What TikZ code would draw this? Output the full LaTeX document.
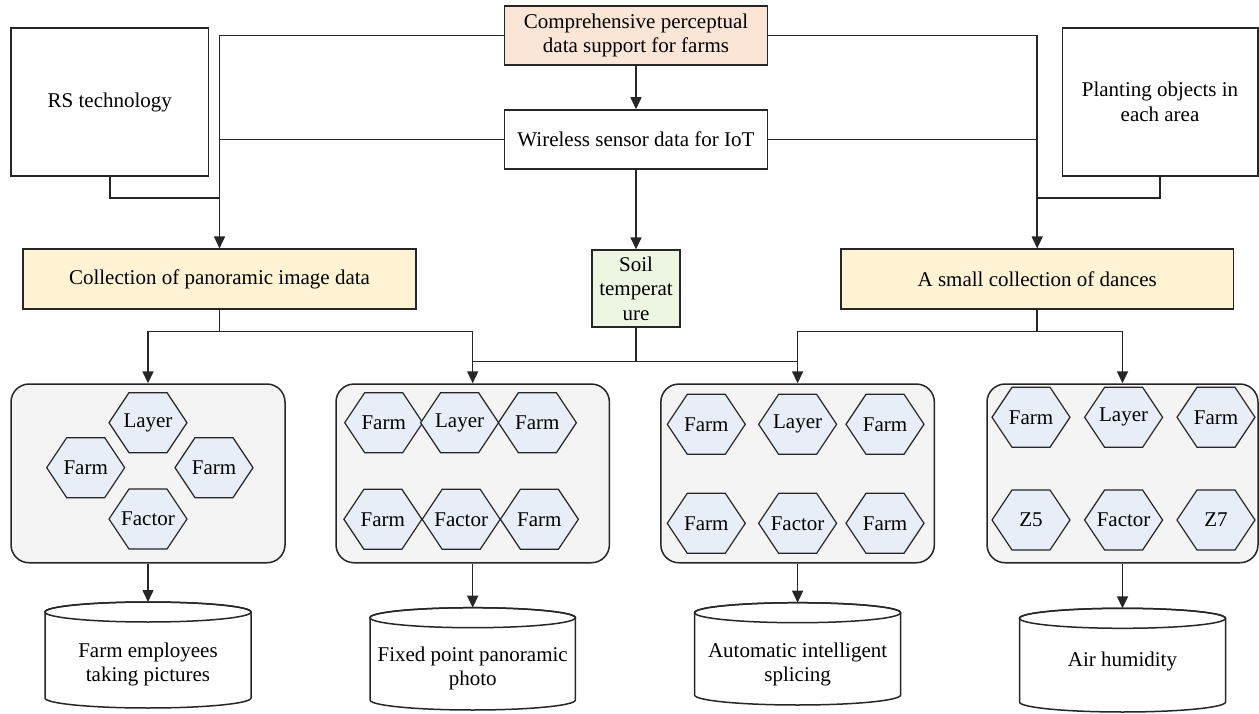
\documentclass[tikz,border=0pt]{standalone}
\usepackage{fontspec}
\setmainfont{Liberation Serif}
\usetikzlibrary{arrows.meta,calc}
\definecolor{lc}{HTML}{262626}
\definecolor{peach}{HTML}{FBE5D6}
\definecolor{yel}{HTML}{FFF3D4}
\definecolor{grn}{HTML}{EDF6E3}
\definecolor{gry}{HTML}{F3F4F3}
\definecolor{hexb}{HTML}{E7EEF8}
\tikzset{
  every node/.style={font=\fontsize{21}{24.5}\selectfont, text=black},
  box/.style={draw=lc, line width=1.5pt, inner sep=0pt, align=center},
  conn/.style={draw=lc, line width=1.5pt},
  arr/.style={conn, -{Triangle[width=11pt,length=12pt]}},
  panel/.style={box, fill=gry, rounded corners=18pt},
  hexs/.style={draw=lc, line width=1.2pt, fill=hexb},
  cyltext/.style={inner sep=0pt, align=center},
}
\newcommand\hexa[4]{%
  \draw[hexs] (#2,#3) ++(-39,0) -- ++(20,-30) -- ++(38,0) -- ++(20,30) -- ++(-20,30) -- ++(-38,0) -- cycle;
  \node[inner sep=0pt] (#1) at (#2,#3) {#4};}
% name, cx, top, bottom, halfwidth, text y, text
\newcommand\cylin[7]{%
  \coordinate (#1t) at (#2,#3);
  \draw[conn, fill=white] (#2-#5,#3+10) -- (#2-#5,#4-10)
     arc[start angle=180, end angle=360, x radius=#5pt, y radius=10pt]
     -- (#2+#5,#3+10)
     arc[start angle=0, end angle=180, x radius=#5pt, y radius=10pt] -- cycle;
  \draw[conn] (#2,#3+10) ellipse[x radius=#5pt, y radius=10pt];
  \node[cyltext] (#1) at (#2,#6) {#7};}
\begin{document}
\begin{tikzpicture}[x=1pt,y=-1pt]
\useasboundingbox (0,0) rectangle (1259,714);
% top boxes
\node[box, fill=peach, minimum width=263pt, minimum height=59pt] (comp) at (636,35.4) {Comprehensive perceptual\\data support for farms};
\node[box, fill=white, minimum width=263pt, minimum height=59pt] (wire) at (636,139.5) {Wireless sensor data for IoT};
\node[box, fill=white, minimum width=197.6pt, minimum height=148pt] (rs) at (109.8,102) {RS technology};
\node[box, fill=white, minimum width=195.5pt, minimum height=148pt] (plant) at (1160,102) {Planting objects in\\each area};
\node[box, fill=yel, minimum width=393pt, minimum height=60pt] (coll) at (219.5,279.2) {Collection of panoramic image data};
\node[box, fill=yel, minimum width=392.5pt, minimum height=60pt] (dance) at (1037.2,279.2) {A small collection of dances};
\node[box, fill=grn, minimum width=88pt, minimum height=77pt] (soil) at (636,288.6) {Soil\\temperat\\ure};
% panels
\node[panel, minimum width=274pt, minimum height=178.7pt] (p1) at (148,473.4) {};
\node[panel, minimum width=273.4pt, minimum height=178.7pt] (p2) at (472.7,473.4) {};
\node[panel, minimum width=273.5pt, minimum height=178.7pt] (p3) at (797.6,473.4) {};
\node[panel, minimum width=271pt, minimum height=178.7pt] (p4) at (1122.5,473.4) {};
% connectors top
\coordinate (rsj) at (219.5,198);
\coordinate (plj) at (1037.2,198);
\draw[arr] (comp.west) -| (coll.north);
\draw[arr] (comp.east) -| (dance.north);
\draw[conn] (wire.west) -- (wire.west -| coll.north);
\draw[conn] (wire.east) -- (wire.east -| dance.north);
\draw[conn] (rs.south) |- (rsj);
\draw[conn] (plant.south) |- (plj);
\draw[arr] (comp.south) -- (wire.north);
\draw[arr] (wire.south) -- (soil.north);
% connectors middle
\coordinate (cb) at (219.5,331.7);
\coordinate (db) at (1037.2,331.7);
\coordinate (sb) at (636,361.7);
\draw[conn] (coll.south) -- (cb);
\draw[arr] (cb) -| (p1.north);
\draw[arr] (cb) -| (p2.north);
\draw[conn] (dance.south) -- (db);
\draw[arr] (db) -| (p3.north);
\draw[arr] (db) -| (p4.north);
\draw[conn] (soil.south) -- (sb);
\draw[conn] (sb) -- (sb -| p2.north);
\draw[conn] (sb) -- (sb -| p3.north);
% hexagons panel 1
\hexa{h11}{148}{422.7}{Layer}
\hexa{h12}{85.7}{467.7}{Farm}
\hexa{h13}{214}{467.7}{Farm}
\hexa{h14}{148}{519}{Factor}
% panel 2
\hexa{h21}{383.7}{422.7}{Farm}
\hexa{h22}{459.6}{422.7}{Layer}
\hexa{h23}{537.4}{422.7}{Farm}
\hexa{h24}{382.9}{519.3}{Farm}
\hexa{h25}{461.2}{519.3}{Factor}
\hexa{h26}{539.4}{519.3}{Farm}
% panel 3
\hexa{h31}{706.3}{424.3}{Farm}
\hexa{h32}{797.6}{424.3}{Layer}
\hexa{h33}{885}{424.3}{Farm}
\hexa{h34}{706.3}{523.3}{Farm}
\hexa{h35}{797.6}{523.3}{Factor}
\hexa{h36}{885}{523.3}{Farm}
% panel 4
\hexa{h41}{1031}{417.3}{Farm}
\hexa{h42}{1123.6}{417.3}{Layer}
\hexa{h43}{1216}{417.3}{Farm}
\hexa{h44}{1031}{520}{Z5}
\hexa{h45}{1123.6}{520}{Factor}
\hexa{h46}{1216}{520}{Z7}
% cylinders
\cylin{c1}{148}{602}{708}{103}{664.7}{Farm employees\\taking pictures}
\cylin{c2}{472.7}{607.7}{710}{102.7}{668.5}{Fixed point panoramic\\photo}
\cylin{c3}{797.6}{602.7}{705}{103}{664.7}{Automatic intelligent\\splicing}
\cylin{c4}{1122.5}{608.3}{712}{103}{661.7}{Air humidity}
\draw[arr] (p1.south) -- (c1t);
\draw[arr] (p2.south) -- (c2t);
\draw[arr] (p3.south) -- (c3t);
\draw[arr] (p4.south) -- (c4t);
\end{tikzpicture}
\end{document}
